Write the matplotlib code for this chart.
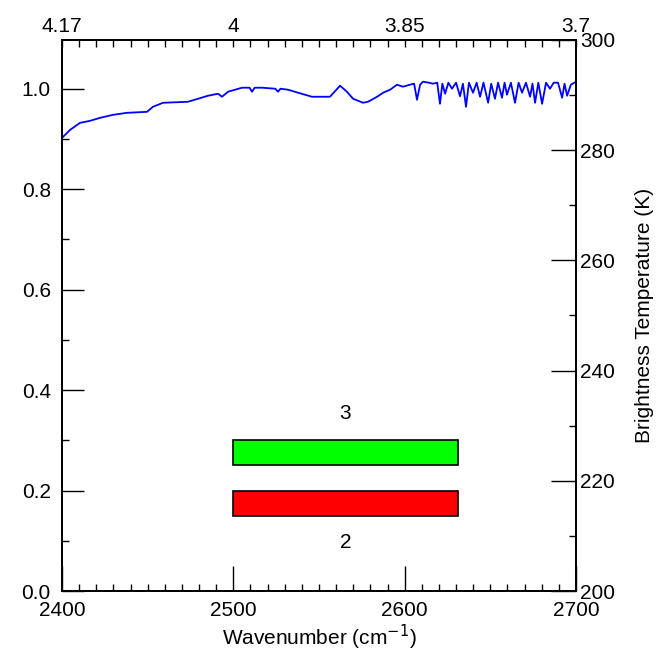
import matplotlib
matplotlib.use("Agg")
import matplotlib.pyplot as plt
from matplotlib.patches import Rectangle
from matplotlib.ticker import MultipleLocator

plt.rcParams['font.family'] = ['Liberation Sans', 'DejaVu Sans']

# spectrum (wavenumber, transmittance)
wavenumber = [2400.0, 2404.7, 2410.5, 2416.3, 2422.2, 2429.8, 2437.9, 2449.6, 2453.1,
              2459.0, 2473.5, 2479.4, 2485.2, 2491.1, 2493.4, 2496.9, 2505.1, 2509.5,
              2510.9, 2512.5, 2516.7, 2524.5, 2526.1, 2527.5, 2531.9, 2537.8, 2545.9,
              2556.4, 2562.3, 2566.3, 2569.9, 2575.7, 2578.6, 2583.9, 2587.4, 2591.5,
              2595.5, 2599.0, 2603.1, 2605.5, 2607.2, 2609.0, 2610.7, 2614.0, 2616.5,
              2619.0, 2620.6, 2622.0, 2623.6, 2625.5, 2627.6, 2630.0, 2632.3, 2634.0,
              2635.8, 2637.5, 2639.9, 2642.0, 2644.0, 2646.0, 2648.7, 2650.5, 2652.7,
              2654.5, 2656.8, 2658.3, 2659.7, 2662.0, 2664.4, 2666.5, 2668.5, 2670.8,
              2673.2, 2674.6, 2676.1, 2678.0, 2680.2, 2682.5, 2684.8, 2687.0, 2689.5,
              2691.9, 2693.3, 2694.8, 2697.0, 2700.0]
transmittance = [0.902, 0.918, 0.932, 0.936, 0.942, 0.948, 0.952, 0.954, 0.964,
                 0.972, 0.974, 0.980, 0.986, 0.990, 0.984, 0.994, 1.002, 1.002,
                 0.994, 1.002, 1.002, 1.000, 0.994, 1.000, 0.998, 0.992, 0.984,
                 0.984, 1.006, 0.994, 0.980, 0.972, 0.974, 0.984, 0.992, 0.998,
                 1.008, 1.004, 1.008, 1.010, 0.978, 1.008, 1.014, 1.012, 1.010,
                 1.012, 0.970, 1.010, 0.990, 1.012, 1.000, 1.012, 0.985, 1.010,
                 0.964, 1.012, 0.992, 1.012, 0.984, 1.012, 0.972, 1.010, 0.980,
                 1.012, 0.982, 1.012, 0.988, 1.012, 0.972, 1.012, 0.992, 1.012,
                 0.984, 1.010, 0.972, 1.012, 0.970, 1.012, 1.000, 1.012, 1.012,
                 0.982, 1.010, 0.986, 1.008, 1.014]

# channel bands
band_start = [2500, 2500]
band_end = [2631, 2631]
band_low = [0.25, 0.15]
band_high = [0.30, 0.20]
band_colors = ['#00ff00', '#ff0000']
band_labels = ['3', '2']
label_y = [0.354, 0.096]

top_ticks = [2400, 2500, 2600, 2700]
top_labels = ['4.17', '4', '3.85', '3.7']

FS = 15

fig = plt.figure(figsize=(6.58, 6.61), dpi=100)
ax = fig.add_axes([0.0942, 0.1059, 0.7812, 0.8336])

ax.plot(wavenumber, transmittance, color='#0000ff', lw=1.3)

for x0, x1, lo, hi, c, lab, ly in zip(band_start, band_end, band_low, band_high,
                                       band_colors, band_labels, label_y):
    ax.add_patch(Rectangle((x0, lo), x1 - x0, hi - lo, facecolor=c,
                           edgecolor='black', lw=1.2))
    ax.text((x0 + x1) / 2, ly, lab, ha='center', va='center', fontsize=FS)

ax.set_xlim(2400, 2700)
ax.set_ylim(0, 1.097)
ax.xaxis.set_major_locator(MultipleLocator(100))
ax.xaxis.set_minor_locator(MultipleLocator(10))
ax.yaxis.set_minor_locator(MultipleLocator(0.1))
ax.set_yticks([0, 0.2, 0.4, 0.6, 0.8, 1.0])
ax.set_yticklabels(['0.0', '0.2', '0.4', '0.6', '0.8', '1.0'])
ax.tick_params(axis='x', which='major', direction='in', length=18, width=1,
               labelsize=FS, pad=7, top=False)
ax.tick_params(axis='y', which='major', direction='in', length=16, width=1,
               labelsize=FS, pad=8, right=False)
ax.tick_params(which='minor', direction='in', length=5, width=1, top=False, right=False)
ax.set_xlabel('Wavenumber (cm$^{-1}$)', fontsize=FS, labelpad=2)

# top axis: wavelength in microns
top = ax.twiny()
top.set_xlim(2400, 2700)
top.set_xticks(top_ticks)
top.set_xticklabels(top_labels)
top.xaxis.set_minor_locator(MultipleLocator(10))
top.tick_params(which='both', direction='in', length=5, width=1, labelsize=FS, pad=3)

# right axis: brightness temperature
right = ax.twinx()
right.set_ylim(200, 300)
right.yaxis.set_major_locator(MultipleLocator(20))
right.yaxis.set_minor_locator(MultipleLocator(10))
right.tick_params(which='major', direction='in', length=18, width=1, labelsize=FS, pad=3)
right.tick_params(which='minor', direction='in', length=5, width=1)
right.set_ylabel('Brightness Temperature (K)', fontsize=FS, labelpad=14)

for a in (ax, top, right):
    for s in a.spines.values():
        s.set_linewidth(1.2)

fig.savefig('out.png', dpi=100)
